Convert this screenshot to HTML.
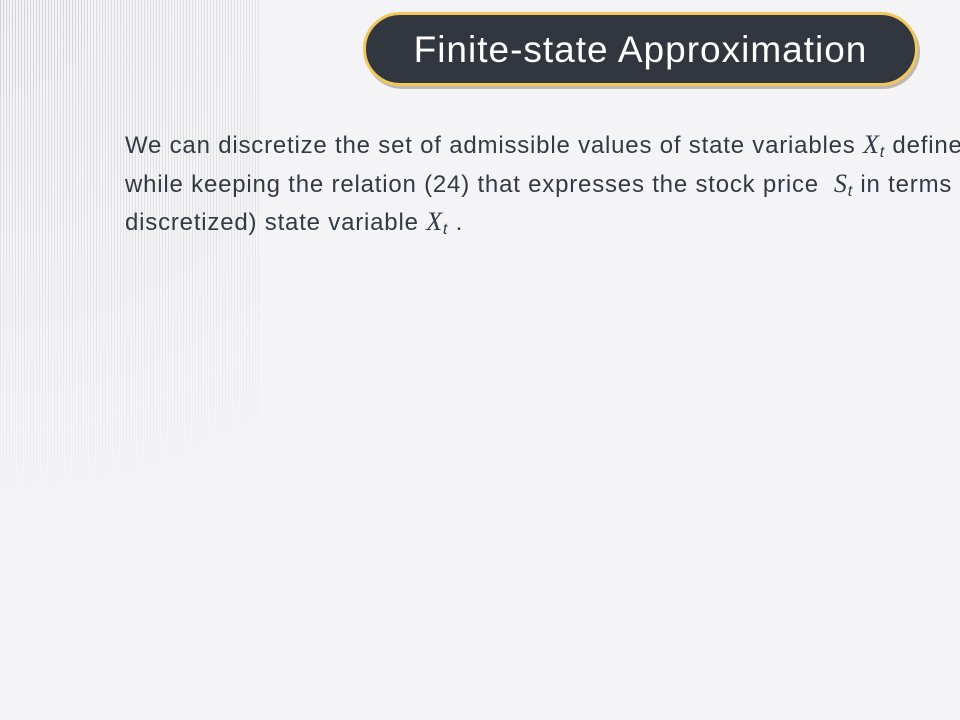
<!DOCTYPE html>
<html><head><meta charset="utf-8"><style>
html,body{margin:0;padding:0}
body{width:960px;height:720px;overflow:hidden;background:#f4f4f6;position:relative;font-family:"Liberation Sans",sans-serif}
.tex{position:absolute;left:0;top:0;width:260px;height:720px;
background:radial-gradient(circle at 0 0,rgba(150,150,150,.35),rgba(150,150,150,0) 70%);
-webkit-mask:repeating-linear-gradient(90deg,#000 0 1px,transparent 1px 3px);}
.pill{position:absolute;left:363px;top:12px;width:555px;height:74px;box-sizing:border-box;background:#31363f;border:3px solid #f2c75c;border-radius:38px;box-shadow:2px 3px 0 #bdb9ae;color:#fff;font-size:37px;text-align:center;line-height:70px;letter-spacing:1px}
.body{position:absolute;left:125px;top:126px;width:900px;white-space:nowrap;color:#333a44;font-size:24px;line-height:37.5px;letter-spacing:0.8px}
i{font-family:"Liberation Serif",serif;font-size:26px}
sub{font-size:16px;font-style:italic;vertical-align:-4px;line-height:0}
</style></head><body>
<div class="tex"></div>
<div class="pill">Finite-state Approximation</div>
<div class="body">We can discretize the set of admissible values of state variables <i>X</i><sub>t</sub> defined<br>while keeping the relation (24) that expresses the stock price &nbsp;<i>S</i><sub>t</sub> in terms<br>discretized) state variable <i>X</i><sub>t</sub> .</div>
</body></html>
